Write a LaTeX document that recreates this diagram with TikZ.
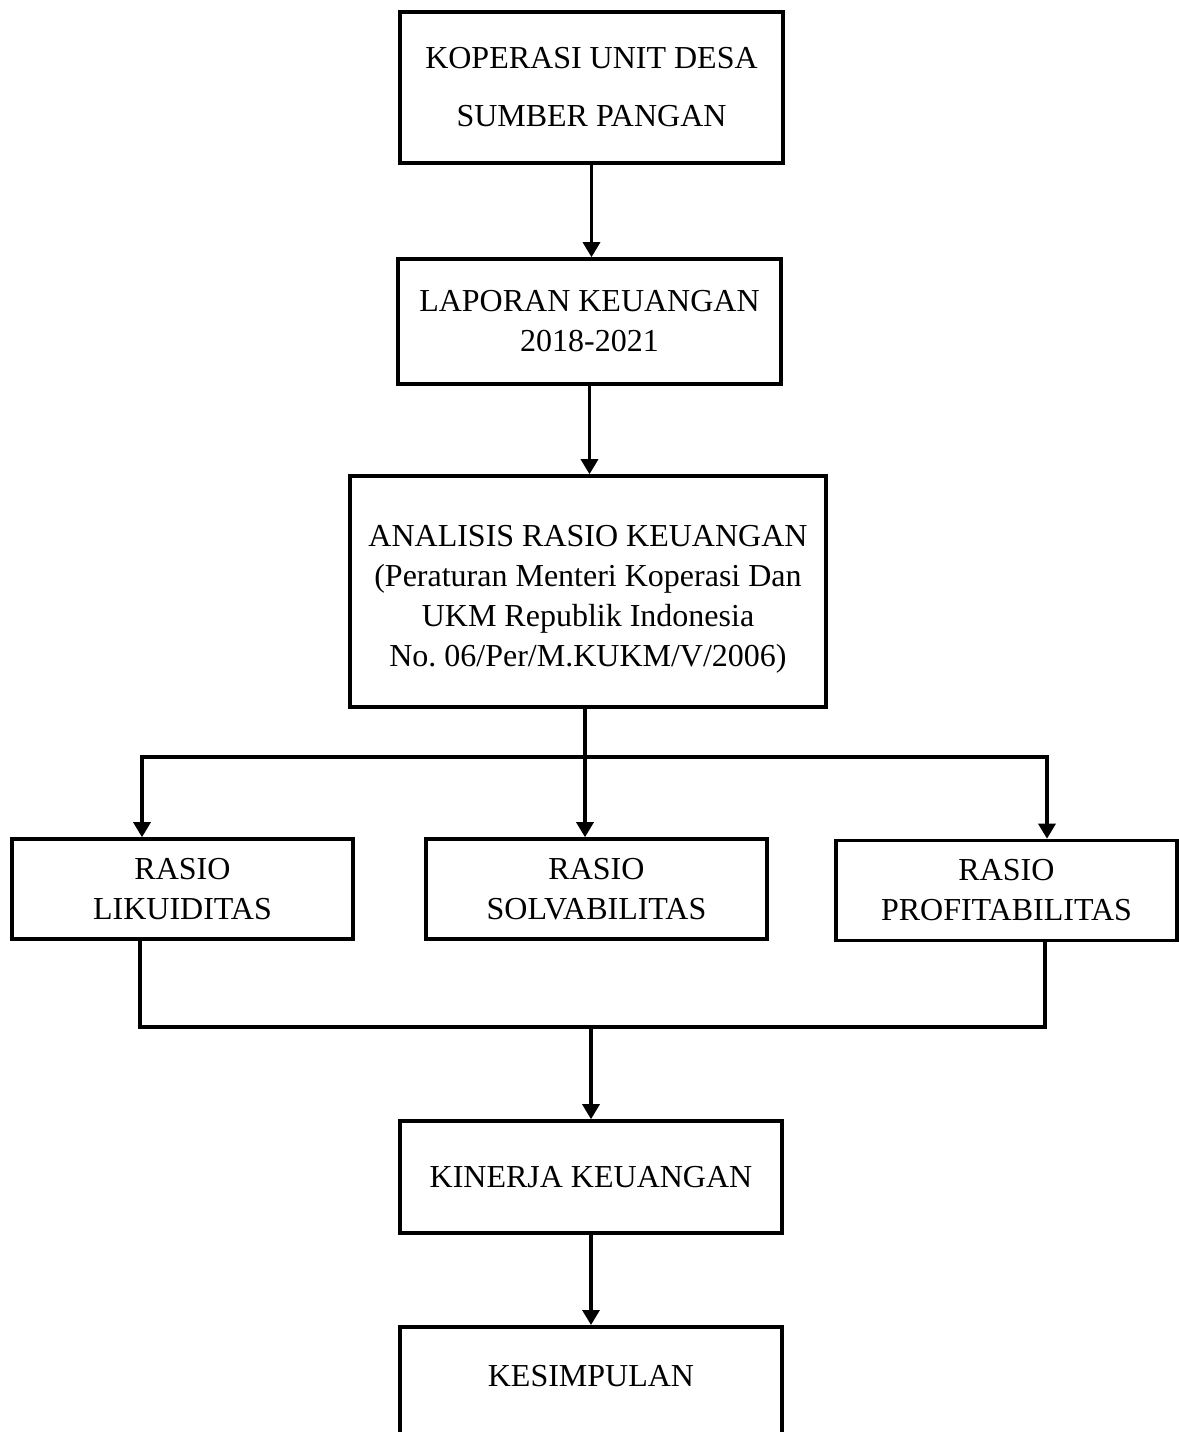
\documentclass[tikz,border=0pt]{standalone}
\usepackage{fontspec}
\setmainfont{Liberation Serif}
\usetikzlibrary{arrows.meta,positioning}

\begin{document}
\begin{tikzpicture}[
  x=0.5pt, y=-0.5pt,
  font=\fontsize{16}{20}\selectfont, >={Triangle[length=7.5pt,width=8.5pt]},
  box/.style={rectangle, draw=black, line width=1.8pt, fill=white,
              align=center, inner sep=0pt},
  arr/.style={->, line width=1.6pt},
  ln/.style={line width=1.6pt}
]
\useasboundingbox (0,0) rectangle (1179,1432);
\clip (0,0) rectangle (1179,1432);

%% top chain
\node[box, minimum width=191.5pt, minimum height=75.5pt] (kud) at (591.5, 87.5)
  {KOPERASI UNIT DESA\\[9pt]SUMBER PANGAN};
\node[box, minimum width=191.5pt, minimum height=62.5pt] (lap) at (589.5, 321.5)
  {LAPORAN KEUANGAN\\2018-2021};
\node[box, minimum width=238pt, minimum height=115.5pt] (ana) at (588, 591.5)
  {\rule{0pt}{18.5pt}ANALISIS RASIO KEUANGAN\\(Peraturan Menteri Koperasi Dan\\UKM Republik Indonesia\\No.\ 06/Per/M.KUKM/V/2006)};

%% ratios
\node[box, minimum width=170.5pt, minimum height=50pt] (lik) at (182.5, 889) {RASIO\\LIKUIDITAS};
\node[box, minimum width=170.5pt, minimum height=50pt] (sol) at (596.5, 889) {RASIO\\SOLVABILITAS};
\node[box, minimum width=170.5pt, minimum height=50pt] (pro) at (1006.5, 890.5) {RASIO\\PROFITABILITAS};

%% result
\node[box, minimum width=191pt, minimum height=56pt] (kin) at (591, 1177) {KINERJA KEUANGAN};
\node[box, minimum width=191pt, text height=30pt, text depth=50pt, anchor=north] (kes) at (591, 1325) {KESIMPULAN};

%% junction points
\coordinate (jl) at (142, 757);
\coordinate (jm) at (585, 757);
\coordinate (jr) at (1047, 757);
\coordinate (ml) at (140, 1027);
\coordinate (mm) at (591, 1027);
\coordinate (mr) at (1045, 1027);

%% edges
\draw[arr] (kud.south) -- (kud.south |- lap.north);
\draw[arr] (lap.south) -- (lap.south |- ana.north);
\draw[ln] (ana.south -| jm) -- (jm);
\draw[ln, line cap=rect] (jl) -- (jr);
\draw[arr] (jl) -- (jl |- lik.north);
\draw[arr] (jm) -- (jm |- sol.north);
\draw[arr] (jr) -- (jr |- pro.north);
\draw[ln, line join=miter] (ml |- lik.south) -- (ml) -- (mr) -- (mr |- pro.south);
\draw[arr] (mm) -- (mm |- kin.north);
\draw[arr] (kin.south) -- (kes.north);
\end{tikzpicture}
\end{document}
